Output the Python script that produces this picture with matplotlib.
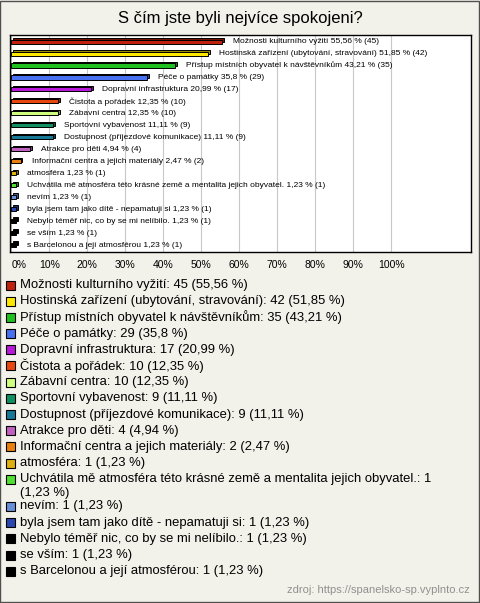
"""Satisfaction survey: horizontal 3D-style bar chart with legend list below."""

import matplotlib.pyplot as plt
import matplotlib.colors as mcolors
from matplotlib.patches import Rectangle

plt.rcParams["font.family"] = ["Liberation Sans", "DejaVu Sans"]

TITLE = "S čím jste byli nejvíce spokojeni?"
SOURCE = "zdroj: https://spanelsko-sp.vyplnto.cz"

names = [
    "Možnosti kulturního vyžití",
    "Hostinská zařízení (ubytování, stravování)",
    "Přístup místních obyvatel k návštěvníkům",
    "Péče o památky",
    "Dopravní infrastruktura",
    "Čistota a pořádek",
    "Zábavní centra",
    "Sportovní vybavenost",
    "Dostupnost (příjezdové komunikace)",
    "Atrakce pro děti",
    "Informační centra a jejich materiály",
    "atmosféra",
    "Uchvátila mě atmosféra této krásné země a mentalita jejich obyvatel.",
    "nevím",
    "byla jsem tam jako dítě - nepamatuji si",
    "Nebylo téměř nic, co by se mi nelíbilo.",
    "se vším",
    "s Barcelonou a její atmosférou",
]
counts = [45, 42, 35, 29, 17, 10, 10, 9, 9, 4, 2, 1, 1, 1, 1, 1, 1, 1]
percents = [55.56, 51.85, 43.21, 35.8, 20.99, 12.35, 12.35, 11.11, 11.11,
            4.94, 2.47, 1.23, 1.23, 1.23, 1.23, 1.23, 1.23, 1.23]
colors = ["#c0200c", "#ffe800", "#20c020", "#4870f0", "#b818d8", "#e84810",
          "#d0ff80", "#109060", "#187898", "#c060c0", "#e88010", "#e0b010",
          "#50e030", "#6890d8", "#2848b0", "#000000", "#000000", "#000000"]
xticks = list(range(0, 101, 10))

W, H = 480, 603


def fx(x):
    return x / W


def fy(y):
    return 1 - y / H


def fmt(p):
    return f"{p:g}".replace(".", ",")


def darker(c, k=0.6):
    r, g, b = mcolors.to_rgb(c)
    return (r * k, g * k, b * k)


fig = plt.figure(figsize=(W / 100, H / 100), dpi=100)
fig.patch.set_facecolor("#f3f2ea")
fig.patches.append(Rectangle((0.001, 0.001), 0.997, 0.997, transform=fig.transFigure,
                             fill=False, edgecolor="#505050", linewidth=1.0))

fig.text(fx(240), fy(19), TITLE, ha="center", va="center", fontsize=12)

ax = fig.add_axes([fx(10), fy(252), fx(471) - fx(10), fy(35) - fy(252)])
ax.set_facecolor("white")
n = len(names)
ys = list(range(n))

# depth part of each bar, then the front face
ax.barh([y - 0.14 for y in ys], percents, left=0.5, height=0.34,
        color=[darker(c) for c in colors], edgecolor="black", linewidth=0.7, zorder=2)
ax.barh(ys, percents, height=0.34, color=colors, edgecolor="black",
        linewidth=0.7, zorder=3)

for y, name, p, c in zip(ys, names, percents, counts):
    ax.annotate(f"{name} {fmt(p)} % ({c})", (p, y), xytext=(8, 0),
                textcoords="offset points", ha="left", va="center",
                fontsize=6, zorder=4)

ax.set_xlim(-0.3, 121)
ax.set_ylim(n - 0.42, -0.55)
ax.set_xticks(xticks)
ax.set_xticklabels([f"{t}%" for t in xticks], fontsize=7.5)
ax.get_xticklabels()[0].set_ha("left")
ax.tick_params(axis="x", length=0, pad=6)
ax.set_yticks([])
ax.grid(axis="x", color="#c8c8c8", linewidth=0.8, zorder=0)
ax.set_axisbelow(True)
for s in ax.spines.values():
    s.set_linewidth(1.0)
    s.set_color("black")

# legend list below the plot
y = 285
for name, p, c, col in zip(names, percents, counts, colors):
    fig.patches.append(Rectangle((fx(6), fy(y + 4.5)), fx(9), fy(0) - fy(9),
                                 transform=fig.transFigure, facecolor=col,
                                 edgecolor="black", linewidth=0.8))
    if name.startswith("Uchvátila"):
        fig.text(fx(20), fy(y), f"{name}: {c}", ha="left", va="center", fontsize=9.4)
        fig.text(fx(20), fy(y + 14), f"({fmt(p)} %)", ha="left", va="center", fontsize=9.4)
        y += 27
    else:
        fig.text(fx(20), fy(y), f"{name}: {c} ({fmt(p)} %)", ha="left", va="center",
                 fontsize=9.4)
        y += 16.2

fig.text(fx(470), fy(590), SOURCE, ha="right", va="center", fontsize=8, color="#909090")

fig.savefig("out.png", dpi=100, facecolor=fig.get_facecolor())
